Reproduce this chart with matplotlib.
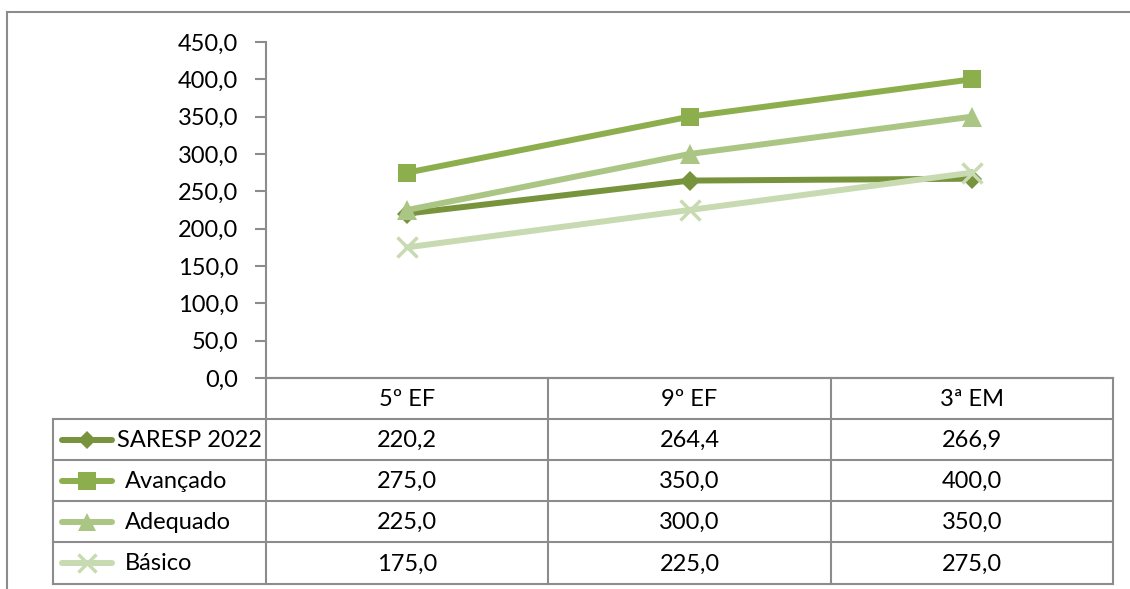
import matplotlib.pyplot as plt
import numpy as np

# series and categories
categories = ["5º EF", "9º EF", "3ª EM"]
series_names = ["SARESP 2022", "Avançado", "Adequado", "Básico"]
saresp = [220.2, 264.4, 266.9]
avancado = [275.0, 350.0, 400.0]
adequado = [225.0, 300.0, 350.0]
basico = [175.0, 225.0, 275.0]
y_ticks = [0, 50, 100, 150, 200, 250, 300, 350, 400, 450]

series = [saresp, avancado, adequado, basico]
colors = ["#77933C", "#8DAE4D", "#ABC684", "#C8DAB1"]
markers = ["D", "s", "^", "x"]
msizes = [10, 13, 14, 14]

plt.rcParams["font.family"] = ["Lato", "DejaVu Sans"]

W, H = 1130, 589
fig = plt.figure(figsize=(W / 100, H / 100), dpi=100)

def fx(px):
    return px / W

def fy(py):
    return 1 - py / H

# pixel layout
x_left, x_right = 266, 1113
y_top, y_axis = 42, 378
row_edges = [378, 419, 460, 501, 542, 584]
tab_left = 53
grid_col = "#8C8C8C"

ax = fig.add_axes([fx(x_left), fy(y_axis), fx(x_right - x_left), (y_axis - y_top) / H])
n = len(categories)
xs = np.arange(n)
for vals, name, c, m, ms in zip(series, series_names, colors, markers, msizes):
    mew = 2.5 if m == "x" else 0
    ax.plot(xs, vals, color=c, lw=4.3, marker=m, markersize=ms,
            markeredgewidth=mew, markeredgecolor=c, label=name,
            solid_capstyle="round", clip_on=False)
ax.set_xlim(-0.5, n - 0.5)
ax.set_ylim(0, 450)
ax.set_yticks(y_ticks)
ax.set_yticklabels([f"{v:.1f}".replace(".", ",") for v in y_ticks], fontsize=17)
ax.set_xticks([])
for s in ["top", "right"]:
    ax.spines[s].set_visible(False)
ax.spines["left"].set_color(grid_col)
ax.spines["bottom"].set_color(grid_col)
ax.spines["left"].set_linewidth(1.5)
ax.spines["bottom"].set_linewidth(1.5)
ax.tick_params(axis="y", length=8, width=1.5, color=grid_col, pad=12)

# overlay in pixel coordinates for the data table and frame
ov = fig.add_axes([0, 0, 1, 1])
ov.set_xlim(0, W)
ov.set_ylim(H, 0)
ov.axis("off")

# outer frame
ov.plot([7, W], [12, 12], color=grid_col, lw=1.5)
ov.plot([7, 7], [12, H], color=grid_col, lw=1.5)

col_w = (x_right - x_left) / n
col_edges = [x_left + i * col_w for i in range(n + 1)]

# horizontal lines of the table
ov.plot([x_left, x_right], [row_edges[0]] * 2, color=grid_col, lw=1.5)
for yy in row_edges[1:]:
    ov.plot([tab_left, x_right], [yy, yy], color=grid_col, lw=1.5)
# vertical lines
ov.plot([tab_left, tab_left], [row_edges[1], row_edges[-1]], color=grid_col, lw=1.5)
ov.plot([x_left, x_left], [row_edges[0], row_edges[-1]], color=grid_col, lw=1.5)
for xx in col_edges[1:]:
    ov.plot([xx, xx], [row_edges[0], row_edges[-1]], color=grid_col, lw=1.5)

# header row
for i, cat in enumerate(categories):
    ov.text((col_edges[i] + col_edges[i + 1]) / 2, (row_edges[0] + row_edges[1]) / 2 + 1,
            cat, ha="center", va="center", fontsize=17)

# value rows with legend keys
for r, (vals, name, c, m, ms) in enumerate(zip(series, series_names, colors, markers, msizes)):
    yc = (row_edges[r + 1] + row_edges[r + 2]) / 2
    mew = 2.5 if m == "x" else 0
    ov.plot([62, 112], [yc, yc], color=c, lw=4.3, solid_capstyle="round")
    ov.plot([87], [yc], marker=m, color=c, markersize=ms * 0.95,
            markeredgewidth=mew, markeredgecolor=c)
    tx = 117 if r == 0 else 125
    ov.text(tx, yc + 1, name, ha="left", va="center", fontsize=17)
    for i, v in enumerate(vals):
        ov.text((col_edges[i] + col_edges[i + 1]) / 2, yc + 1,
                f"{v:.1f}".replace(".", ","), ha="center", va="center", fontsize=17)

fig.savefig("out.png", dpi=100)
